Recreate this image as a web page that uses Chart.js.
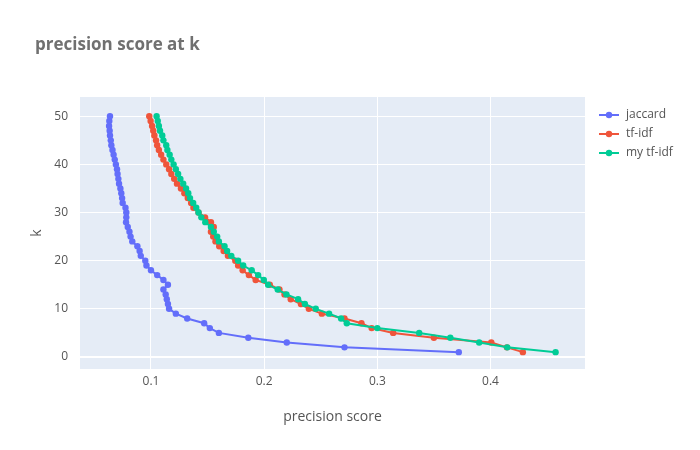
<!DOCTYPE html>
<html>
<head>
<meta charset="utf-8">
<script src="https://cdn.jsdelivr.net/npm/chart.js@4"></script>
<style>
  html, body { margin: 0; padding: 0; background: #fff; }
  #wrap { width: 700px; height: 450px; position: relative; }
</style>
</head>
<body>
<div id="wrap"><canvas id="chart"></canvas></div>
<script>
// k = 1 .. 50
const kValues = Array.from({ length: 50 }, (_, i) => i + 1);

const jaccard = [
  0.372, 0.271, 0.220, 0.186, 0.160, 0.152, 0.147, 0.132, 0.122, 0.116,
  0.115, 0.114, 0.113, 0.111, 0.115, 0.111, 0.1055, 0.100, 0.096, 0.095,
  0.091, 0.090, 0.088, 0.0835, 0.082, 0.081, 0.0795, 0.078, 0.0782, 0.0782,
  0.0775, 0.075, 0.0745, 0.0738, 0.073, 0.0718, 0.0712, 0.0705, 0.070, 0.069,
  0.068, 0.067, 0.066, 0.065, 0.0645, 0.0638, 0.0635, 0.063, 0.0632, 0.0638
];

const tfidf = [
  0.4286, 0.4145, 0.4007, 0.350, 0.314, 0.295, 0.286, 0.271, 0.251, 0.2395,
  0.2325, 0.2235, 0.218, 0.2135, 0.205, 0.1925, 0.1865, 0.181, 0.177, 0.1745,
  0.168, 0.1642, 0.1603, 0.157, 0.155, 0.153, 0.1555, 0.153, 0.1478, 0.142,
  0.1375, 0.1355, 0.1325, 0.1295, 0.1265, 0.123, 0.1205, 0.118, 0.116, 0.1135,
  0.111, 0.109, 0.107, 0.1055, 0.1045, 0.103, 0.102, 0.101, 0.0997, 0.0985
];

const myTfidf = [
  0.4575, 0.4148, 0.390, 0.3645, 0.337, 0.300, 0.273, 0.268, 0.2574, 0.2456,
  0.236, 0.230, 0.2197, 0.212, 0.2035, 0.1997, 0.1947, 0.189, 0.1815, 0.177,
  0.171, 0.1673, 0.165, 0.160, 0.1585, 0.1555, 0.153, 0.148, 0.1445, 0.142,
  0.140, 0.1373, 0.1345, 0.133, 0.131, 0.1285, 0.126, 0.124, 0.122, 0.120,
  0.118, 0.1165, 0.1145, 0.1135, 0.111, 0.110, 0.108, 0.107, 0.106, 0.105
];

const seriesNames = ['jaccard', 'tf-idf', 'my tf-idf'];
const seriesColors = ['#636efa', '#EF553B', '#00cc96'];
const xTicks = [0.1, 0.2, 0.3, 0.4];
const yTicks = [0, 10, 20, 30, 40, 50];

const TEXT = '#555';
const FONT = '"Open Sans", "DejaVu Sans", sans-serif';

const toPoints = (vals) => vals.map((v, i) => ({ x: v, y: kValues[i] }));

function makeSet(idx, vals) {
  return {
    label: seriesNames[idx],
    data: toPoints(vals),
    showLine: true,
    borderColor: seriesColors[idx],
    backgroundColor: seriesColors[idx],
    borderWidth: 2,
    pointRadius: 3.2,
    pointBorderWidth: 0,
    pointHoverRadius: 3.2,
    order: 2 - idx
  };
}

// plotly-like plot background
const plotBg = {
  id: 'plotBg',
  beforeDraw(chart) {
    const { ctx, chartArea: a } = chart;
    ctx.save();
    ctx.fillStyle = '#E5ECF6';
    ctx.fillRect(a.left, a.top, a.right - a.left, a.bottom - a.top);
    ctx.restore();
  }
};

// title and legend drawn in plotly positions
const decor = {
  id: 'decor',
  afterDraw(chart) {
    const ctx = chart.ctx;
    ctx.save();
    ctx.fillStyle = '#707070';
    ctx.font = 'bold 17px ' + FONT;
    ctx.textBaseline = 'middle';
    ctx.textAlign = 'left';
    ctx.fillText('precision score at k', 35, 45);

    ctx.font = '12px ' + FONT;
    chart.data.datasets.forEach((ds, i) => {
      const y = 115 + i * 19;
      ctx.strokeStyle = ds.borderColor;
      ctx.lineWidth = 2;
      ctx.beginPath();
      ctx.moveTo(599, y);
      ctx.lineTo(619, y);
      ctx.stroke();
      ctx.fillStyle = ds.backgroundColor;
      ctx.beginPath();
      ctx.arc(609, y, 3.2, 0, Math.PI * 2);
      ctx.fill();
      ctx.fillStyle = TEXT;
      ctx.fillText(ds.label, 626, y);
    });
    ctx.restore();
  }
};

new Chart(document.getElementById('chart'), {
  type: 'scatter',
  data: {
    datasets: [
      makeSet(0, jaccard),
      makeSet(1, tfidf),
      makeSet(2, myTfidf)
    ]
  },
  options: {
    responsive: true,
    maintainAspectRatio: false,
    animation: false,
    layout: { padding: { left: 0, top: 97, right: 115, bottom: 0 } },
    plugins: {
      legend: { display: false },
      tooltip: { enabled: false }
    },
    scales: {
      x: {
        type: 'linear',
        min: 0.0373,
        max: 0.4835,
        afterFit(s) { s.height = 81; },
        afterBuildTicks(s) { s.ticks = xTicks.map(v => ({ value: v })); },
        border: { display: false },
        grid: { color: '#ffffff', lineWidth: 1, drawTicks: false },
        ticks: {
          color: TEXT,
          padding: 5,
          maxRotation: 0,
          font: { family: FONT, size: 12 },
          callback: v => String(Math.round(v * 10) / 10)
        },
        title: {
          display: true,
          text: 'precision score',
          color: TEXT,
          font: { family: FONT, size: 14 },
          padding: { top: 0, bottom: 25 }
        }
      },
      y: {
        type: 'linear',
        min: -2.5,
        max: 54,
        afterFit(s) { s.width = 80; },
        afterBuildTicks(s) { s.ticks = yTicks.map(v => ({ value: v })); },
        border: { display: false },
        grid: {
          color: '#ffffff',
          lineWidth: ctx => (ctx.tick && ctx.tick.value === 0 ? 2 : 1),
          drawTicks: false
        },
        ticks: {
          color: TEXT,
          padding: 12,
          font: { family: FONT, size: 12 }
        },
        title: {
          display: true,
          text: 'k',
          color: TEXT,
          font: { family: FONT, size: 14 },
          padding: { top: 29, bottom: 0 }
        }
      }
    }
  },
  plugins: [plotBg, decor]
});
</script>
</body>
</html>
